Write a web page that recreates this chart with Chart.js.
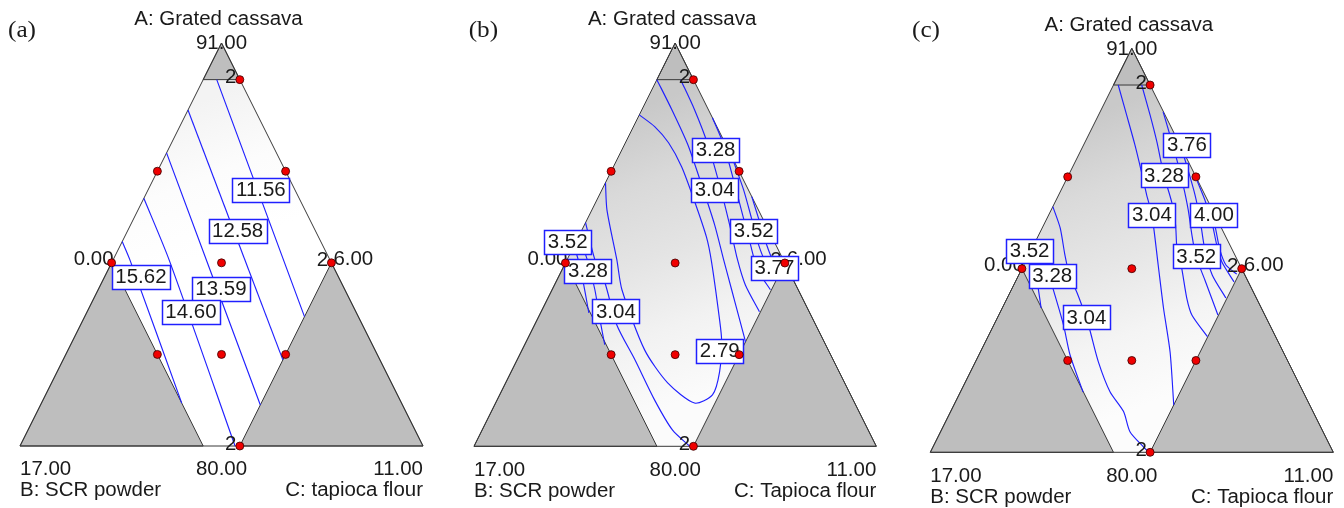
<!DOCTYPE html>
<html>
<head>
<meta charset="utf-8">
<script src="https://cdn.jsdelivr.net/npm/chart.js@4.4.0/dist/chart.umd.min.js"></script>
<style>
  html, body { margin: 0; padding: 0; background: #fff; }
  #wrap { position: relative; width: 1344px; height: 508px; }
  canvas { position: absolute; top: 0; }
</style>
</head>
<body>
<div id="wrap">
  <canvas id="pa" width="448" height="508" style="left:0px"></canvas>
  <canvas id="pb" width="448" height="508" style="left:448px"></canvas>
  <canvas id="pc" width="448" height="508" style="left:896px"></canvas>
</div>
<script>
// Mixture A + B + C = 97, all points given as [A, C] (B is the rest).
// A: 80..91, B: 6..17, C: 0..11 on the plotted simplex.
const topTitle = 'A: Grated cassava';
const bName = 'B: SCR powder';
const cNames = ['C: tapioca flour', 'C: Tapioca flour', 'C: Tapioca flour'];
const panelLetters = ['(a)', '(b)', '(c)'];
const vertexValues = ['91.00', '17.00', '11.00'];   // top, bottom-left, bottom-right
const edgeValues = ['0.00', '6.00', '80.00'];       // left, right, bottom

const vertexTop = [91, 0], vertexBL = [80, 0], vertexBR = [80, 11];
const cornerLeft = [85, 0], cornerRight = [85, 6], bottomMid = [80, 5.5];

const outerTriangle = [[91, 0], [80, 0], [80, 11], [91, 0]];
const topTriangle = [[91, 0], [90, 1], [90, 0], [91, 0]];
const leftTriangle = [[85, 0], [80, 0], [80, 5], [85, 0]];
const rightTriangle = [[85, 6], [80, 6], [80, 11], [85, 6]];
const feasibleRegion = [[90, 0], [90, 1], [85, 6], [80, 6], [80, 5], [85, 0], [90, 0]];

const designPoints = [[90, 1], [87.5, 0], [87.5, 3.5], [85, 0], [85, 3], [85, 6],
                      [82.5, 2.5], [82.5, 4.25], [82.5, 6], [80, 6]];
const replicatePoints = [[90, 1], [85, 6], [80, 6]];

// (a)
const contoursA = [
  [[90, 0.37], [83.53, 6]],
  [[89.17, 0], [82.35, 6]],
  [[88, 0], [81.12, 6]],
  [[86.76, 0], [85.08, 1.53], [80, 5.87]],
  [[85.58, 0], [85.08, 0.46], [81.17, 3.83]]
];
const labelValuesA = ['11.56', '12.58', '13.59', '14.60', '15.62'];
const labelPosA = [[86.99, 3.08], [85.88, 3.0], [84.29, 3.34], [83.67, 2.83], [84.62, 0.99]];

// (b)
const contoursB = [
  [[87.19, 0], [86.45, 0.41], [85.09, 1.36], [84.27, 1.91], [82.63, 3.35], [81.73, 4.43], [81.18, 5.44],
   [81.40, 5.82], [82.03, 5.70], [82.90, 5.32], [83.45, 4.99], [85.03, 3.98], [85.71, 3.50], [86.67, 2.70],
   [87.62, 1.87], [88.28, 1.18], [88.72, 0.58], [89.04, 0]],
  [[86.10, 0], [85.09, 0.76], [84.46, 1.35], [83.31, 2.25], [82.36, 3.22], [81.26, 4.31], [80.44, 5.21], [80, 5.9]],
  [[85.74, 0], [85.03, 0.60], [84.27, 1.17], [83.45, 1.72], [82.77, 2.19]],
  [[85.47, 0], [85.03, 0.35], [84.40, 0.80], [83.64, 1.32]],
  [[90, 0], [89.18, 0.82], [88.23, 1.73], [87.13, 2.66], [86.04, 3.56], [85.09, 4.28], [84.27, 4.91], [83.45, 5.54], [82.85, 6]],
  [[90, 0.65], [89.18, 1.44], [88.23, 2.28], [87.13, 3.15], [86.04, 3.97], [85.09, 4.66], [84.40, 5.22], [83.67, 5.97]],
  [[88.96, 2.04], [88.23, 2.71], [87.27, 3.46], [86.31, 4.19], [85.50, 4.81], [84.81, 5.35], [84.27, 5.97]],
  [[87.76, 3.22], [87.0, 3.87], [86.23, 4.47], [85.50, 5.03], [85.03, 5.46], [84.70, 5.95]],
  [[86.81, 4.19], [86.12, 4.75], [85.50, 5.25], [85.09, 5.62], [84.87, 5.95]]
];
const labelValuesB = ['3.28', '3.04', '3.52', '3.77', '2.79', '3.52', '3.28', '3.04'];
const labelPosB = [[88.09, 2.56], [87.0, 3.08], [85.88, 4.71], [84.87, 5.78], [82.60, 5.42],
                   [85.58, -0.23], [84.79, 0.72], [83.68, 2.04]];

// (c)
const contoursC = [
  [[90, 0.13], [89.18, 0.77], [88.37, 1.40], [87.63, 1.95], [87.01, 2.40], [86.46, 2.82], [85.10, 3.67], [83.93, 4.40], [82.73, 5.18], [81.29, 6]],
  [[90, 0.77], [89.18, 1.41], [88.45, 1.96], [87.55, 2.60], [86.79, 3.20], [86.19, 3.60], [85.51, 3.98], [85.02, 4.35], [84.20, 4.90], [83.74, 5.27], [83.15, 5.99]],
  [[89.27, 1.72], [88.64, 2.22], [87.96, 2.75], [87.28, 3.26], [86.60, 3.74], [85.92, 4.18], [85.34, 4.58], [84.69, 5.15], [83.74, 5.98]],
  [[88.31, 2.69], [87.69, 3.19], [87.01, 3.72], [86.33, 4.20], [85.51, 4.74], [84.83, 5.28], [84.20, 5.97]],
  [[87.41, 3.57], [86.87, 4.06], [86.27, 4.55], [85.64, 5.0], [85.18, 5.37], [84.64, 5.97]],
  [[86.65, 4.34], [86.05, 4.77], [85.51, 5.15], [85.10, 5.52], [84.85, 5.94]],
  [[86.69, 0], [86.11, 0.49], [85.37, 0.99], [84.75, 1.44], [84.36, 1.82], [83.68, 2.41], [83.33, 2.69], [82.47, 3.35],
   [81.65, 4.08], [81.11, 4.72], [80.56, 5.17], [80.15, 5.74], [80, 5.97]],
  [[85.78, 0], [85.18, 0.54], [84.47, 1.11], [83.47, 1.90], [82.65, 2.49], [81.64, 3.35]],
  [[85.51, 0], [84.96, 0.38], [84.47, 0.71], [83.93, 1.06]]
];
const labelValuesC = ['3.76', '3.28', '3.04', '4.00', '3.52', '3.52', '3.28', '3.04'];
const labelPosC = [[88.37, 2.82], [87.54, 2.61], [86.46, 2.82], [86.46, 4.51], [85.34, 4.59],
                   [85.48, -0.03], [84.80, 0.93], [83.68, 2.42]];

const FONT = '19.5px "Liberation Sans", Arial, sans-serif';
const SERIF = '24px "Liberation Serif", "Times New Roman", serif';
const SX = 1.05;
const INK = '#1a1a1a';
const BLUE = '#2020ff';
const EDGE = '#383838';

// ternary (A, C) -> plot units
function toXY(p) {
  return { x: p[1] / 11 + (p[0] - 80) / 22, y: (p[0] - 80) / 11 };
}

function drawText(ctx, s, x, y, align, font, baseline) {
  ctx.save();
  ctx.font = font || FONT;
  ctx.textAlign = 'left';
  ctx.textBaseline = baseline || 'middle';
  const w = ctx.measureText(s).width * SX;
  const x0 = align === 'center' ? x - w / 2 : align === 'right' ? x - w : x;
  ctx.translate(x0, y);
  ctx.scale(SX, 1);
  ctx.fillStyle = INK;
  ctx.fillText(s, 0, 0);
  ctx.restore();
  return w;
}

function shade(stops) {
  return (c) => {
    const chart = c.chart;
    if (!chart.chartArea || !chart.scales.x) return stops[stops.length - 1];
    const X = v => chart.scales.x.getPixelForValue(v), Y = v => chart.scales.y.getPixelForValue(v);
    const g = chart.ctx.createLinearGradient(X(0.36), Y(0.82), X(0.62), Y(0.15));
    stops.forEach((s, i) => g.addColorStop(i / (stops.length - 1), s));
    return g;
  };
}

function makePlugin(p) {
  const pix = (chart, ac) => {
    const q = toXY(ac);
    return [chart.scales.x.getPixelForValue(q.x), chart.scales.y.getPixelForValue(q.y)];
  };
  return {
    id: 'ternaryText',
    beforeDatasetDraw(chart, args) {
      if (args.index !== 0) return;   // right before the design points
      const ctx = chart.ctx;
      const [lx, ly] = pix(chart, cornerLeft);
      drawText(ctx, edgeValues[0], lx + 2, ly + 2, 'right', FONT, 'alphabetic');
      const [rx, ry] = pix(chart, cornerRight);
      drawText(ctx, edgeValues[1], rx + 2, ry + 2, 'left', FONT, 'alphabetic');
      replicatePoints.forEach(rp => {
        const [x, y] = pix(chart, rp);
        drawText(ctx, '2', x - 9, y + 3.5, 'center', FONT, 'alphabetic');
      });
      p.labelValues.forEach((v, i) => {
        const [cx, cy] = pix(chart, p.labelPos[i]);
        ctx.save();
        ctx.font = FONT;
        const w = ctx.measureText(v).width * SX;
        const bw = Math.round(w + 7), bh = 24;
        const x0 = Math.round(cx - bw / 2) + 0.5, y0 = Math.round(cy - bh / 2) + 0.5;
        ctx.fillStyle = '#ffffff';
        ctx.fillRect(x0, y0, bw, bh);
        ctx.strokeStyle = BLUE;
        ctx.lineWidth = 1.5;
        ctx.strokeRect(x0, y0, bw, bh);
        ctx.restore();
        drawText(ctx, v, cx, cy + 1, 'center', FONT, 'middle');
      });
    },
    afterDraw(chart) {
      const ctx = chart.ctx, ca = chart.chartArea;
      const [tx] = pix(chart, vertexTop);
      const [bx] = pix(chart, bottomMid);
      const [blx] = pix(chart, vertexBL);
      const [brx] = pix(chart, vertexBR);
      drawText(ctx, topTitle, tx - 3, ca.top - 23, 'center');
      drawText(ctx, vertexValues[0], tx, ca.top + 1, 'center');
      drawText(ctx, vertexValues[1], blx, ca.bottom + 24, 'left');
      drawText(ctx, edgeValues[2], bx, ca.bottom + 24, 'center');
      drawText(ctx, vertexValues[2], brx, ca.bottom + 24, 'right');
      drawText(ctx, bName, blx, ca.bottom + 45, 'left');
      drawText(ctx, p.cName, brx, ca.bottom + 45, 'right');
      drawText(ctx, p.letter, p.letterX, 31, 'left', SERIF);
    }
  };
}

function poly(pts, extra) {
  return Object.assign({
    type: 'line', data: pts.map(toXY), pointRadius: 0, pointHitRadius: 0,
    borderColor: EDGE, borderWidth: 1, fill: false, tension: 0, clip: false
  }, extra);
}

const panels = [
  { id: 'pa', letter: panelLetters[0], cName: cNames[0], contours: contoursA, labelValues: labelValuesA, labelPos: labelPosA,
    pad: { left: 20, right: 25, top: 43, bottom: 62 }, letterX: 8,
    shade: ['#f3f3f3', '#fcfcfc', '#ffffff', '#ffffff', '#ffffff'] },
  { id: 'pb', letter: panelLetters[1], cName: cNames[1], contours: contoursB, labelValues: labelValuesB, labelPos: labelPosB,
    pad: { left: 26, right: 19.7, top: 43, bottom: 61.7 }, letterX: 20.7,
    shade: ['#c8c8c8', '#d9d9d9', '#e4e4e4', '#f2f2f2', '#fbfbfb'] },
  { id: 'pc', letter: panelLetters[2], cName: cNames[2], contours: contoursC, labelValues: labelValuesC, labelPos: labelPosC,
    pad: { left: 34.3, right: 10.7, top: 48.3, bottom: 55.7 }, letterX: 16,
    shade: ['#c9c9c9', '#dadada', '#e6e6e6', '#f4f4f4', '#fcfcfc'] }
];

panels.forEach(p => {
  const datasets = [
    { type: 'scatter', data: designPoints.map(toXY), pointRadius: 4, pointBackgroundColor: '#f00000',
      pointBorderColor: '#3a0000', pointBorderWidth: 0.8, showLine: false, order: 0, clip: false }
  ];
  p.contours.forEach(c => datasets.push(poly(c, { borderColor: BLUE, borderWidth: 1.15, tension: 0.25, order: 2 })));
  datasets.push(poly(outerTriangle, { order: 3 }));
  [topTriangle, leftTriangle, rightTriangle].forEach(t =>
    datasets.push(poly(t, { fill: 'shape', backgroundColor: '#bebebe', order: 4 })));
  datasets.push(poly(feasibleRegion, { fill: 'shape', backgroundColor: shade(p.shade),
    borderColor: 'rgba(0,0,0,0)', order: 5 }));

  new Chart(document.getElementById(p.id), {
    type: 'scatter',
    data: { datasets },
    options: {
      responsive: false,
      animation: false,
      devicePixelRatio: 1,
      events: [],
      layout: { padding: p.pad },
      plugins: { legend: { display: false }, tooltip: { enabled: false } },
      scales: {
        x: { type: 'linear', min: 0, max: 1, display: false },
        y: { type: 'linear', min: 0, max: 1, display: false }
      }
    },
    plugins: [makePlugin(p)]
  });
});
</script>
</body>
</html>
